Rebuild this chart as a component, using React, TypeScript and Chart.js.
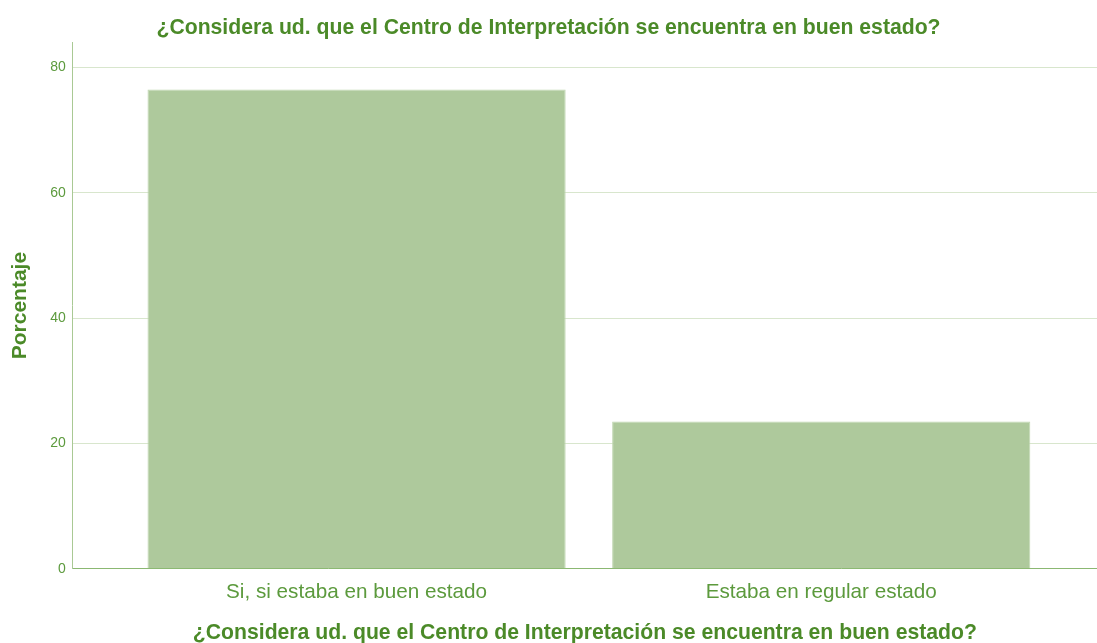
import React, { useEffect, useRef } from "react";
import { Chart, registerables } from "chart.js";

Chart.register(...registerables);

const categories: string[] = ["Si, si estaba en buen estado", "Estaba en regular estado"];
const positions: number[] = [0, 1];
const percentages: number[] = [76.5, 23.5];
const yTicks: number[] = [0, 20, 40, 60, 80];
const titleText = "¿Considera ud. que el Centro de Interpretación se encuentra en buen estado?";
const yTitle = "Porcentaje";

const GREEN_DARK = "#4b8a28";
const GREEN_TICK = "#5c9a3d";
const BAR = "#aec99c";
const FONT = "Arial, 'Liberation Sans', sans-serif";

export default function App() {
  const ref = useRef<HTMLCanvasElement | null>(null);
  useEffect(() => {
    if (!ref.current) return;
    const chart = new Chart(ref.current, {
      type: "bar",
      data: {
        datasets: [
          {
            data: positions.map((x, i) => ({ x, y: percentages[i] })),
            backgroundColor: BAR,
            borderColor: "#c0d7b1",
            borderWidth: 1,
            barPercentage: 0.9,
            categoryPercentage: 1,
          },
        ],
      },
      options: {
        animation: false,
        responsive: false,
        maintainAspectRatio: false,
        layout: { padding: { left: 0, right: 0, top: 0, bottom: 0 } },
        plugins: {
          legend: { display: false },
          tooltip: { enabled: false },
          title: {
            display: true,
            text: titleText,
            color: GREEN_DARK,
            font: { family: FONT, size: 21.2, weight: "bold" },
            padding: { top: 15, bottom: 2 },
          },
        },
        scales: {
          x: {
            type: "linear",
            offset: false,
            min: -0.6108,
            max: 1.5935,
            afterBuildTicks: (scale: any) => {
              scale.ticks = positions.map((v) => ({ value: v }));
            },
            ticks: {
              autoSkip: false,
              maxRotation: 0,
              padding: 11,
              color: GREEN_TICK,
              font: { family: FONT, size: 20.7 },
              callback: (v: any) => categories[Number(v)] ?? "",
            },
            grid: { display: false, drawTicks: false, offset: false },
            border: { color: "#8bb872", width: 1 },
            title: {
              display: true,
              text: titleText,
              color: GREEN_DARK,
              font: { family: FONT, size: 21.2, weight: "bold" },
              padding: { top: 5, bottom: -3 },
            },
          },
          y: {
            min: 0,
            max: 84,
            afterBuildTicks: (scale: any) => {
              scale.ticks = yTicks.map((v) => ({ value: v }));
            },
            ticks: {
              padding: 7,
              color: GREEN_TICK,
              font: { family: FONT, size: 14 },
            },
            grid: { color: "#d8e6cd", lineWidth: 1, drawTicks: false },
            border: { color: "#a9c994", width: 1 },
            title: {
              display: true,
              text: yTitle,
              color: GREEN_DARK,
              font: { family: FONT, size: 21, weight: "bold" },
              padding: { top: 8, bottom: 10 },
            },
          },
        },
      },
    } as any);
    return () => chart.destroy();
  }, []);
  return (
    <div style={{ position: "absolute", left: 0, top: 0, width: 1097, height: 643, background: "#fff" }}>
      <canvas ref={ref} width={1097} height={643} style={{ width: 1097, height: 643, display: "block" }} />
    </div>
  );
}
